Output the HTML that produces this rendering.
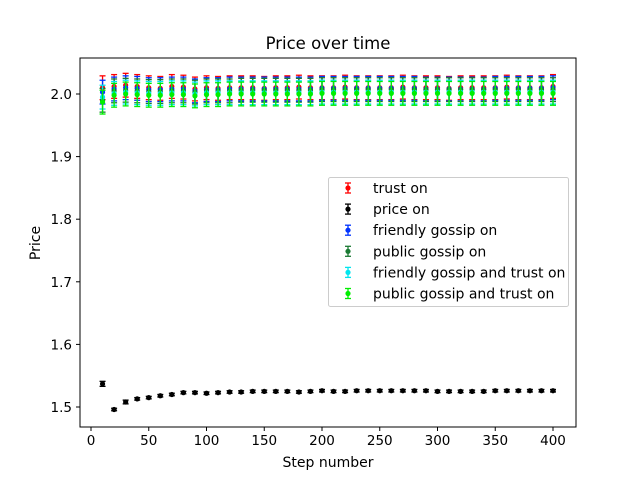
<!DOCTYPE html>
<html><head><meta charset="utf-8"><style>
body{margin:0;background:#fff;}
svg text{font-family:"DejaVu Sans","Liberation Sans",sans-serif;}
</style></head><body>
<svg id="chart" width="640" height="480" xmlns="http://www.w3.org/2000/svg"></svg>
<script>
const steps = [10,20,30,40,50,60,70,80,90,100,110,120,130,140,150,160,170,180,190,200,210,220,230,240,250,260,270,280,290,300,310,320,330,340,350,360,370,380,390,400];
const trustOn = [2.010,2.012,2.014,2.012,2.010,2.009,2.012,2.011,2.008,2.010,2.009,2.010,2.010,2.010,2.009,2.010,2.010,2.011,2.010,2.010,2.010,2.011,2.010,2.010,2.010,2.010,2.011,2.010,2.010,2.010,2.009,2.010,2.010,2.010,2.010,2.011,2.010,2.010,2.010,2.012];
const priceOn = [1.537,1.496,1.508,1.513,1.515,1.518,1.520,1.523,1.523,1.522,1.523,1.524,1.524,1.525,1.525,1.525,1.525,1.524,1.525,1.526,1.525,1.525,1.526,1.526,1.526,1.526,1.526,1.526,1.526,1.525,1.525,1.525,1.525,1.525,1.526,1.526,1.526,1.526,1.526,1.526];
const friendlyOn = [2.003,2.008,2.010,2.009,2.007,2.007,2.008,2.008,2.005,2.007,2.007,2.008,2.008,2.008,2.008,2.008,2.008,2.008,2.008,2.009,2.009,2.009,2.009,2.009,2.009,2.009,2.009,2.009,2.008,2.008,2.008,2.008,2.008,2.008,2.009,2.009,2.009,2.009,2.009,2.010];
const publicOn = [1.990,2.005,2.006,2.005,2.004,2.004,2.005,2.005,2.003,2.005,2.005,2.005,2.006,2.006,2.006,2.006,2.006,2.006,2.006,2.007,2.007,2.007,2.007,2.007,2.007,2.007,2.007,2.007,2.007,2.007,2.007,2.007,2.007,2.007,2.007,2.007,2.007,2.007,2.007,2.007];
const friendlyTrustOn = [1.995,2.001,2.003,2.002,2.001,2.001,2.002,2.002,2.000,2.002,2.002,2.002,2.002,2.002,2.002,2.002,2.002,2.002,2.002,2.003,2.003,2.003,2.003,2.003,2.003,2.003,2.003,2.003,2.003,2.003,2.003,2.003,2.003,2.003,2.003,2.003,2.003,2.003,2.003,2.003];
const publicTrustOn = [1.987,1.998,2.000,1.999,1.998,1.998,1.999,1.999,1.997,1.999,1.999,2.000,2.000,2.000,2.000,2.000,2.000,2.000,2.000,2.001,2.001,2.001,2.001,2.001,2.001,2.001,2.001,2.001,2.001,2.001,2.001,2.001,2.001,2.001,2.001,2.001,2.001,2.001,2.001,2.001];
const topErr = 0.019;
const priceErr = [0.004,0.002,0.003,0.002,0.002,0.002,0.002,0.002,0.002,0.002,0.002,0.002,0.002,0.002,0.002,0.002,0.002,0.002,0.002,0.002,0.002,0.002,0.002,0.002,0.002,0.002,0.002,0.002,0.002,0.002,0.002,0.002,0.002,0.002,0.002,0.002,0.002,0.002,0.002,0.002];
const xTicks = [0,50,100,150,200,250,300,350,400];
const yTicks = [1.5,1.6,1.7,1.8,1.9,2.0];
const labels = ["trust on","price on","friendly gossip on","public gossip on","friendly gossip and trust on","public gossip and trust on"];

const svg = document.getElementById('chart');
const NS='http://www.w3.org/2000/svg';
const L=80,R=576,T=58,B=427;
const xS=v=>91+(v-0)*(553-91)/400;
const yS=v=>407-(v-1.5)*(407-94)/0.5;
function mk(tag,attrs,parent){const e=document.createElementNS(NS,tag);for(const k in attrs)e.setAttribute(k,attrs[k]);(parent||svg).appendChild(e);return e;}

const t=mk('text',{x:328,y:49,'font-size':16.5,'text-anchor':'middle'});t.textContent='Price over time';



xTicks.forEach(v=>{
  const g=mk('g',{});
  
  
  mk('line',{x1:xS(v),x2:xS(v),y1:B,y2:B+4,stroke:'#000'},g);
  const tx=mk('text',{x:xS(v),y:B+18,'font-size':13.5,'text-anchor':'middle'},g);tx.textContent=v;
});
yTicks.forEach(v=>{
  const g=mk('g',{});
  
  
  mk('line',{x1:L-4,x2:L,y1:yS(v),y2:yS(v),stroke:'#000'},g);
  const tx=mk('text',{x:L-8,y:yS(v)+5,'font-size':13.5,'text-anchor':'end'},g);tx.textContent=v.toFixed(1);
});
const xl=mk('text',{x:328,y:467,'font-size':14,'text-anchor':'middle'});xl.textContent='Step number';


const yl=mk('text',{x:40,y:243,'font-size':14,'text-anchor':'middle',transform:'rotate(-90 40 243)'});yl.textContent='Price';



const series=[[trustOn,'#ff0000',null],[priceOn,'#000000',priceErr],[friendlyOn,'#0033ff',null],[publicOn,'#1a7a33',null],[friendlyTrustOn,'#00e5ee',null],[publicTrustOn,'#00ee00',null]];
series.forEach((s,si)=>{
  const g=mk('g',{});
  
  
  s[0].forEach((v,i)=>{
    const e=s[2]?s[2][i]:topErr;
    const x=xS(steps[i]),y1=yS(v+e),y2=yS(v-e);
    mk('line',{x1:x,x2:x,y1:y1,y2:y2,stroke:s[1],'stroke-width':1.3},g);
    mk('line',{x1:x-3,x2:x+3,y1:y1,y2:y1,stroke:s[1],'stroke-width':1.3},g);
    mk('line',{x1:x-3,x2:x+3,y1:y2,y2:y2,stroke:s[1],'stroke-width':1.3},g);
    const c=mk('circle',{cx:x,cy:yS(v),r:2.6,fill:s[1]},g);
    
    
  });
});
const ax=mk('rect',{x:L,y:T,width:R-L,height:B-T,fill:'none',stroke:'#000','stroke-width':1});



const lg=mk('g',{});


mk('rect',{x:328.5,y:177.5,width:240,height:129,fill:'#fff',stroke:'#ccc',rx:2},lg);
labels.forEach((lab,i)=>{
  const y=188+i*21.1;
  const e=mk('g',{},lg);
  
  
  const col=series[i][1];
  mk('line',{x1:348,x2:348,y1:y-5,y2:y+5,stroke:col,'stroke-width':1.3},e);
  mk('line',{x1:345,x2:351,y1:y-5,y2:y-5,stroke:col,'stroke-width':1.3},e);
  mk('line',{x1:345,x2:351,y1:y+5,y2:y+5,stroke:col,'stroke-width':1.3},e);
  mk('circle',{cx:348,cy:y,r:2.6,fill:col},e);
  const tx=mk('text',{x:373,y:y+5,'font-size':14},e);tx.textContent=lab;
});
</script>
</body></html>
